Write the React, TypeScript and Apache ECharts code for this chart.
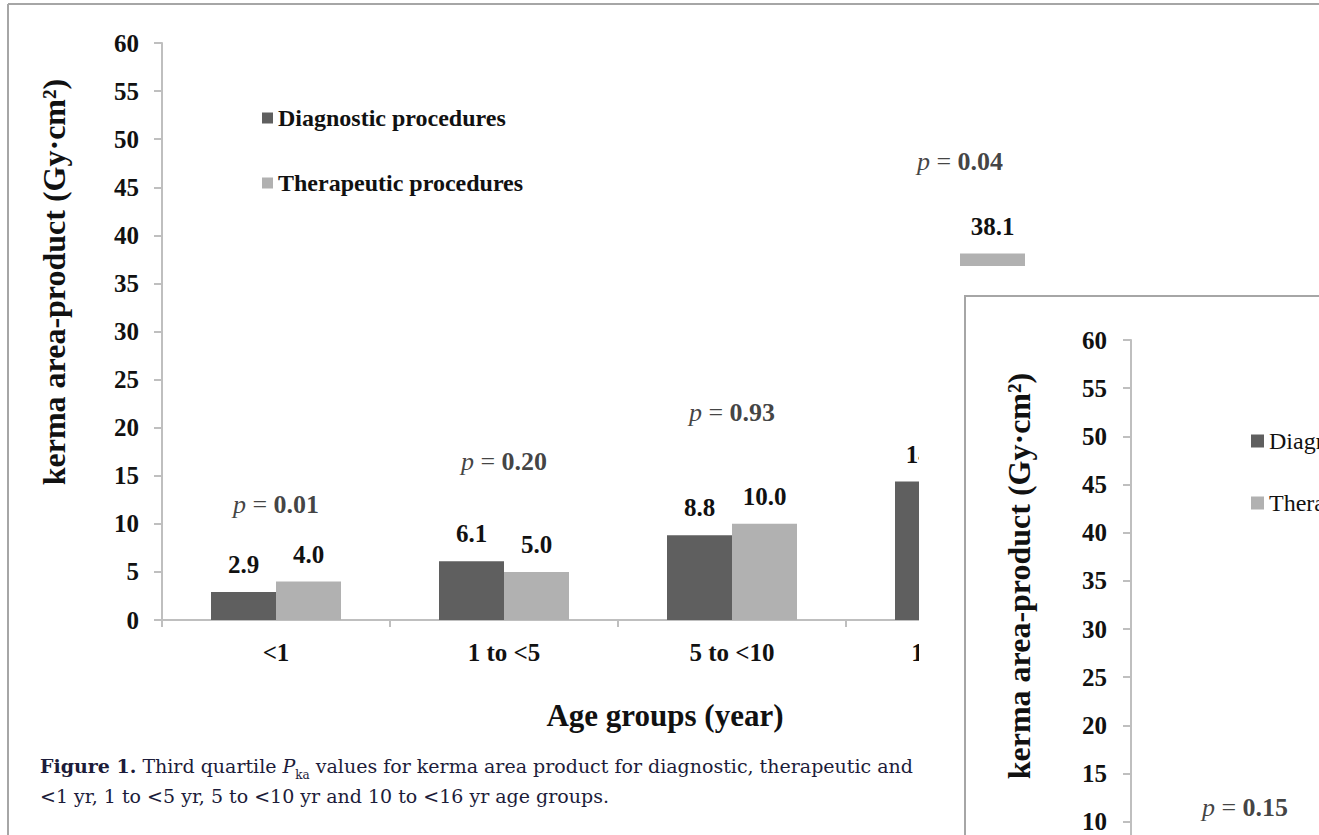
import React, { useEffect, useRef } from "react";
import * as echarts from "echarts";

// ---- data ----
const ageGroups = ["<1", "1 to <5", "5 to <10", "10 to <16"];
const seriesNames = ["Diagnostic procedures", "Therapeutic procedures"];
const diagnostic = [2.9, 6.1, 8.8, 14.4];
const therapeutic = [4.0, 5.0, 10.0, 38.1];
const pValues = ["0.01", "0.20", "0.93", "0.04"];
const pLabelHeights = [12.0, 16.5, 21.6, 47.7];
// second (overlapping) panel
const panel2PValues = ["0.15"];
const panel2PHeights = [11.5];
const yMin = 0;
const yMax = 60;
const yStep = 5;

const FONT = "'Liberation Serif', 'Times New Roman', serif";
const CAPTION_FONT = "'DejaVu Serif', serif";
const DARK = "#5f5f5f";
const LIGHT = "#b1b1b1";
const AXIS = "#bfbfbf";
const INK = "#111111";
const FRAME = "#a6a6a6";
const CAPTION_INK = "#1c1c3a";

const pRich = {
  i: { fontFamily: FONT, fontStyle: "italic", fontSize: 26, color: INK },
  n: { fontFamily: FONT, fontSize: 26, color: INK },
  b: { fontFamily: FONT, fontWeight: "bold", fontSize: 26, color: INK },
};

function buildOption(): any {
  const valueAxis = (gridIndex: number, top: boolean) => ({
    type: "value",
    gridIndex,
    min: yMin,
    max: yMax,
    interval: yStep,
    z: top ? 60 : 0,
    axisLine: { show: true, lineStyle: { color: AXIS, width: 2 } },
    axisTick: { show: true, length: 8, lineStyle: { color: AXIS, width: 2 } },
    splitLine: { show: false },
    axisLabel: {
      color: INK,
      fontFamily: FONT,
      fontWeight: "bold",
      fontSize: 25,
      margin: gridIndex === 0 ? 23 : 24,
    },
    name: "kerma area-product (Gy·cm²)",
    nameLocation: "middle",
    nameGap: gridIndex === 0 ? 92 : 96,
    nameTextStyle: {
      color: INK,
      fontFamily: FONT,
      fontWeight: "bold",
      fontSize: 32,
      padding: gridIndex === 0 ? [0, 0, 0, 99] : [0, 0, 0, 106],
    },
  });

  const catAxis = (gridIndex: number, top: boolean) => ({
    type: "category",
    gridIndex,
    data: ageGroups,
    z: top ? 60 : 0,
    axisLine: { show: true, lineStyle: { color: AXIS, width: 2 } },
    axisTick: { show: true, length: 7, lineStyle: { color: AXIS, width: 2 } },
    axisLabel: {
      show: !top,
      color: INK,
      fontFamily: FONT,
      fontWeight: "bold",
      fontSize: 25,
      margin: 20,
      interval: 0,
    },
    name: top ? "" : "Age groups (year)",
    nameLocation: "middle",
    nameGap: 80,
    nameTextStyle: {
      color: INK,
      fontFamily: FONT,
      fontWeight: "bold",
      fontSize: 31,
      padding: [0, 0, 0, 94],
    },
  });

  const barLabel = {
    show: true,
    position: "top",
    distance: 15,
    color: INK,
    fontFamily: FONT,
    fontWeight: "bold",
    fontSize: 25,
    formatter: (p: any) => Number(p.value).toFixed(1),
  };

  return {
    animation: false,
    backgroundColor: "#ffffff",
    grid: [
      { left: 162, top: 43, width: 912, height: 577, outerBoundsMode: "none" },
      { left: 1131, top: 340, width: 912, height: 578, outerBoundsMode: "none" },
    ],
    xAxis: [catAxis(0, false), catAxis(1, true)],
    yAxis: [valueAxis(0, false), valueAxis(1, true)],
    legend: [
      {
        data: seriesNames,
        orient: "vertical",
        left: 257,
        top: 101,
        icon: "rect",
        itemWidth: 11,
        itemHeight: 11,
        itemGap: 41,
        textStyle: { color: INK, fontFamily: FONT, fontWeight: "bold", fontSize: 24 },
        z: 4,
      },
      {
        data: seriesNames,
        orient: "vertical",
        left: 1246,
        top: 424,
        icon: "rect",
        itemWidth: 13,
        itemHeight: 13,
        itemGap: 38,
        textStyle: { color: INK, fontFamily: FONT, fontSize: 24 },
        z: 60,
      },
    ],
    series: [
      {
        name: seriesNames[0],
        type: "bar",
        xAxisIndex: 0,
        yAxisIndex: 0,
        data: diagnostic,
        barWidth: 65,
        barGap: "0%",
        itemStyle: { color: DARK },
        label: barLabel,
      },
      {
        name: seriesNames[1],
        type: "bar",
        xAxisIndex: 0,
        yAxisIndex: 0,
        data: therapeutic,
        barWidth: 65,
        barGap: "0%",
        itemStyle: { color: LIGHT },
        label: barLabel,
      },
      {
        name: "p-values",
        type: "scatter",
        xAxisIndex: 0,
        yAxisIndex: 0,
        symbolSize: 0,
        data: pLabelHeights.map((h, i) => [i, h]),
        label: {
          show: true,
          position: "inside",
          formatter: (p: any) => `{i|p}{n| = }{b|${pValues[p.dataIndex]}}`,
          rich: pRich,
        },
      },
      {
        name: "p-values panel 2",
        type: "scatter",
        xAxisIndex: 1,
        yAxisIndex: 1,
        symbolSize: 0,
        z: 60,
        data: panel2PHeights.map((h, i) => [i, h]),
        label: {
          show: true,
          position: "inside",
          formatter: (p: any) => `{i|p}{n| = }{b|${panel2PValues[p.dataIndex]}}`,
          rich: pRich,
        },
      },
    ],
    graphic: [
      {
        type: "line",
        z: 1,
        shape: { x1: 8, y1: 4, x2: 1319, y2: 4 },
        style: { stroke: FRAME, lineWidth: 2 },
      },
      {
        type: "line",
        z: 1,
        shape: { x1: 8, y1: 4, x2: 8, y2: 835 },
        style: { stroke: FRAME, lineWidth: 2 },
      },
      {
        type: "text",
        z: 5,
        x: 40,
        y: 751,
        style: {
          text:
            "{b|Figure 1.} Third quartile {i|P}{s|ka} values for kerma area product for diagnostic, therapeutic and a\n<1 yr, 1 to <5 yr, 5 to <10 yr and 10 to <16 yr age groups.",
          fontFamily: CAPTION_FONT,
          fontSize: 19,
          lineHeight: 30,
          fill: CAPTION_INK,
          rich: {
            b: { fontFamily: CAPTION_FONT, fontWeight: "bold", fontSize: 19, lineHeight: 30, fill: CAPTION_INK },
            i: { fontFamily: CAPTION_FONT, fontStyle: "italic", fontSize: 19, lineHeight: 30, fill: CAPTION_INK },
            s: { fontFamily: CAPTION_FONT, fontSize: 12, lineHeight: 20, verticalAlign: "bottom", fill: CAPTION_INK },
          },
        },
      },
      {
        type: "rect",
        z: 50,
        shape: { x: 919, y: 266, width: 400, height: 569 },
        style: { fill: "#ffffff" },
      },
      {
        type: "polyline",
        z: 51,
        shape: { points: [[965, 835], [965, 296], [1319, 296]] },
        style: { stroke: FRAME, lineWidth: 2, fill: null },
      },
    ],
  };
}

export default function App() {
  const ref = useRef<HTMLDivElement | null>(null);
  useEffect(() => {
    if (!ref.current) return;
    const chart = echarts.init(ref.current, undefined, { renderer: "svg" });
    chart.setOption(buildOption());
    return () => chart.dispose();
  }, []);
  return (
    <div
      ref={ref}
      style={{ position: "fixed", left: 0, top: 0, width: 1319, height: 835, background: "#fff" }}
    />
  );
}
